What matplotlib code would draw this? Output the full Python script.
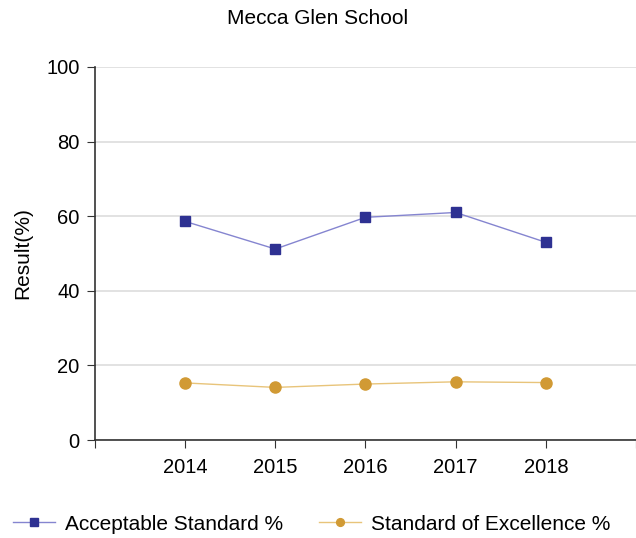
import matplotlib.pyplot as plt
from matplotlib.ticker import FixedLocator

plt.rcParams['font.family'] = ['Liberation Sans', 'DejaVu Sans']

years = [2014, 2015, 2016, 2017, 2018]
acceptable = [58.6, 51.2, 59.7, 61.0, 53.0]
excellence = [15.3, 14.1, 15.0, 15.6, 15.4]
series_names = ['Acceptable Standard %', 'Standard of Excellence %']

fig = plt.figure(figsize=(6.36, 5.38), dpi=100)
ax = fig.add_axes([95/636, 1 - 440/538, (636 - 95)/636, 373/538])

ax.plot(years, acceptable, color='#8585d0', lw=1, marker='s', ms=7.5,
        mfc='#2e3192', mec='#2e3192', label=series_names[0])
ax.plot(years, excellence, color='#e8c47a', lw=1, marker='o', ms=8,
        mfc='#d19a34', mec='#d19a34', label=series_names[1])

ax.set_xlim(2013, 2019)
ax.set_ylim(0, 100)
ax.xaxis.set_major_locator(FixedLocator([2013] + years + [2019]))
ax.set_xticklabels([''] + [str(y) for y in years] + [''])
ax.set_yticks(range(0, 101, 20))
ax.yaxis.grid(True, color='#dddddd', lw=1.2)
ax.set_axisbelow(True)
for s in ['top', 'right']:
    ax.spines[s].set_visible(False)
for s in ['left', 'bottom']:
    ax.spines[s].set_color('#333333')
    ax.spines[s].set_linewidth(1.2)
ax.tick_params(axis='both', labelsize=14.5, color='#333333', length=6)
ax.tick_params(axis='x', pad=7)
ax.tick_params(axis='y', pad=5)

ax.set_ylabel('Result(%)', fontsize=15, labelpad=10)
fig.text(0.5, 1 - 18/538, 'Mecca Glen School', ha='center', va='center', fontsize=15)

fig.legend(loc='center', bbox_to_anchor=(0.49, 1 - 524/538), ncol=2, frameon=False,
           fontsize=15, handlelength=2.0, handletextpad=0.48, columnspacing=1.75,
           markerscale=0.7)

fig.savefig('out.png', dpi=100)
